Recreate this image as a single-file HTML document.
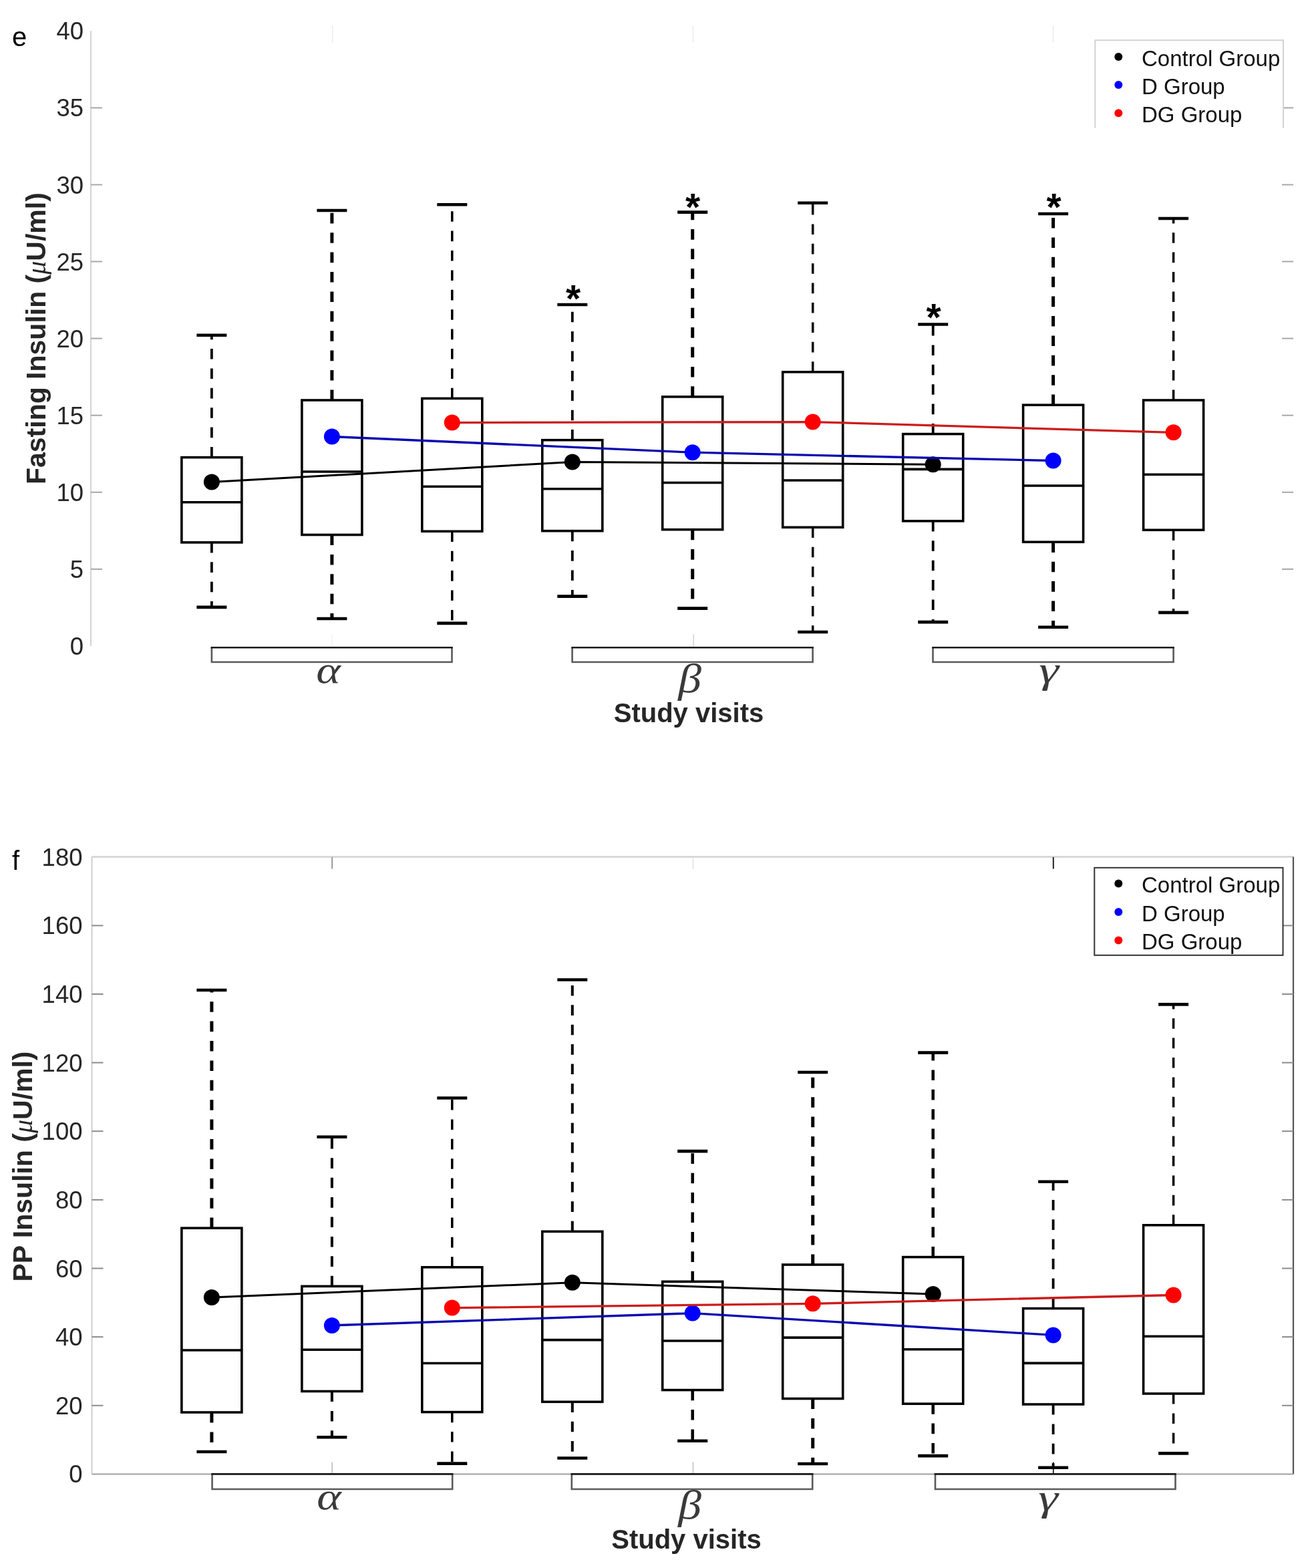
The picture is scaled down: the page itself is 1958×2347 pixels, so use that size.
<!DOCTYPE html>
<html><head><meta charset="utf-8"><title>Insulin boxplots</title>
<style>
html,body{margin:0;padding:0;background:#fff;}
body{width:1958px;height:2347px;overflow:hidden;}
svg{display:block;}
text{font-family:"Liberation Sans",Arial,sans-serif;}
.tl{font-size:36.5px;fill:#262626;text-anchor:end;}
.lg{font-size:33px;fill:#111;}
.xl{font-size:40px;font-weight:bold;fill:#262626;}
.yl{font-size:41px;font-weight:bold;fill:#262626;}
.mu{font-family:"Liberation Serif",serif;font-style:italic;font-weight:normal;font-size:40px;}
.pl{font-size:40px;fill:#000;}
.gk{font-family:"Liberation Serif",serif;font-style:italic;font-size:58px;fill:#3a3a3a;}
.st{font-size:57px;font-weight:bold;fill:#000;}
</style></head>
<body>
<svg width="1958" height="2347" viewBox="0 0 1958 2347">
<rect width="100%" height="100%" fill="#fff"/>
<line x1="136" y1="46.3" x2="136" y2="967" stroke="#d4d4d4" stroke-width="2"/>
<line x1="496.8" y1="949.5" x2="496.8" y2="967" stroke="#f3f3f3" stroke-width="1.6"/>
<line x1="1038.2" y1="949.5" x2="1038.2" y2="969" stroke="#d4d4d4" stroke-width="1.6"/>
<line x1="497.8" y1="38" x2="497.8" y2="64" stroke="#f0f0f0" stroke-width="2"/>
<line x1="1037.5" y1="38" x2="1037.5" y2="64" stroke="#f0f0f0" stroke-width="2"/>
<line x1="1576.6" y1="38" x2="1576.6" y2="64" stroke="#f0f0f0" stroke-width="2"/>
<text x="125" y="980" class="tl">0</text>
<line x1="136" y1="851.9" x2="153" y2="851.9" stroke="#a8a8a8" stroke-width="2"/>
<line x1="1919" y1="851.9" x2="1936" y2="851.9" stroke="#a8a8a8" stroke-width="2"/>
<text x="125" y="864.9" class="tl">5</text>
<line x1="136" y1="736.8" x2="153" y2="736.8" stroke="#a8a8a8" stroke-width="2"/>
<line x1="1919" y1="736.8" x2="1936" y2="736.8" stroke="#a8a8a8" stroke-width="2"/>
<text x="125" y="749.8" class="tl">10</text>
<line x1="136" y1="621.7" x2="153" y2="621.7" stroke="#a8a8a8" stroke-width="2"/>
<line x1="1919" y1="621.7" x2="1936" y2="621.7" stroke="#a8a8a8" stroke-width="2"/>
<text x="125" y="634.7" class="tl">15</text>
<line x1="136" y1="506.6" x2="153" y2="506.6" stroke="#a8a8a8" stroke-width="2"/>
<line x1="1919" y1="506.6" x2="1936" y2="506.6" stroke="#a8a8a8" stroke-width="2"/>
<text x="125" y="519.6" class="tl">20</text>
<line x1="136" y1="391.5" x2="153" y2="391.5" stroke="#a8a8a8" stroke-width="2"/>
<line x1="1919" y1="391.5" x2="1936" y2="391.5" stroke="#a8a8a8" stroke-width="2"/>
<text x="125" y="404.5" class="tl">25</text>
<line x1="136" y1="276.5" x2="153" y2="276.5" stroke="#a8a8a8" stroke-width="2"/>
<line x1="1919" y1="276.5" x2="1936" y2="276.5" stroke="#a8a8a8" stroke-width="2"/>
<text x="125" y="289.5" class="tl">30</text>
<line x1="136" y1="161.4" x2="153" y2="161.4" stroke="#a8a8a8" stroke-width="2"/>
<line x1="1919" y1="161.4" x2="1936" y2="161.4" stroke="#a8a8a8" stroke-width="2"/>
<text x="125" y="174.4" class="tl">35</text>
<text x="125" y="59.3" class="tl">40</text>
<line x1="316.9" y1="684.6" x2="316.9" y2="501.7" stroke="#000" stroke-width="3.8" stroke-dasharray="15.6 13.8"/>
<line x1="316.9" y1="811.9" x2="316.9" y2="908.9" stroke="#000" stroke-width="3.8" stroke-dasharray="15.6 13.8"/>
<line x1="294.4" y1="501.7" x2="339.4" y2="501.7" stroke="#000" stroke-width="4.6"/>
<line x1="294.4" y1="908.9" x2="339.4" y2="908.9" stroke="#000" stroke-width="4.6"/>
<rect x="271.9" y="684.6" width="90" height="127.3" fill="none" stroke="#000" stroke-width="3.6"/>
<line x1="271.9" y1="751.7" x2="361.9" y2="751.7" stroke="#000" stroke-width="3.6"/>
<line x1="496.9" y1="599" x2="496.9" y2="315" stroke="#000" stroke-width="5.0" stroke-dasharray="15.6 13.8"/>
<line x1="496.9" y1="800.5" x2="496.9" y2="926" stroke="#000" stroke-width="5.0" stroke-dasharray="15.6 13.8"/>
<line x1="474.4" y1="315" x2="519.4" y2="315" stroke="#000" stroke-width="4.6"/>
<line x1="474.4" y1="926" x2="519.4" y2="926" stroke="#000" stroke-width="4.6"/>
<rect x="451.9" y="599" width="90" height="201.5" fill="none" stroke="#000" stroke-width="3.6"/>
<line x1="451.9" y1="706" x2="541.9" y2="706" stroke="#000" stroke-width="3.6"/>
<line x1="676.8" y1="596.4" x2="676.8" y2="306.2" stroke="#000" stroke-width="3.5" stroke-dasharray="15.6 13.8"/>
<line x1="676.8" y1="795.3" x2="676.8" y2="932.9" stroke="#000" stroke-width="3.5" stroke-dasharray="15.6 13.8"/>
<line x1="654.3" y1="306.2" x2="699.3" y2="306.2" stroke="#000" stroke-width="4.6"/>
<line x1="654.3" y1="932.9" x2="699.3" y2="932.9" stroke="#000" stroke-width="4.6"/>
<rect x="631.8" y="596.4" width="90" height="198.9" fill="none" stroke="#000" stroke-width="3.6"/>
<line x1="631.8" y1="728.3" x2="721.8" y2="728.3" stroke="#000" stroke-width="3.6"/>
<line x1="856.8" y1="658.7" x2="856.8" y2="456" stroke="#000" stroke-width="3.8" stroke-dasharray="15.6 13.8"/>
<line x1="856.8" y1="794.7" x2="856.8" y2="892.6" stroke="#000" stroke-width="3.8" stroke-dasharray="15.6 13.8"/>
<line x1="834.3" y1="456" x2="879.3" y2="456" stroke="#000" stroke-width="4.6"/>
<line x1="834.3" y1="892.6" x2="879.3" y2="892.6" stroke="#000" stroke-width="4.6"/>
<rect x="811.8" y="658.7" width="90" height="136" fill="none" stroke="#000" stroke-width="3.6"/>
<line x1="811.8" y1="731.8" x2="901.8" y2="731.8" stroke="#000" stroke-width="3.6"/>
<line x1="1036.7" y1="593.9" x2="1036.7" y2="317.6" stroke="#000" stroke-width="5.0" stroke-dasharray="15.6 13.8"/>
<line x1="1036.7" y1="792.7" x2="1036.7" y2="910.6" stroke="#000" stroke-width="5.0" stroke-dasharray="15.6 13.8"/>
<line x1="1014.2" y1="317.6" x2="1059.2" y2="317.6" stroke="#000" stroke-width="4.6"/>
<line x1="1014.2" y1="910.6" x2="1059.2" y2="910.6" stroke="#000" stroke-width="4.6"/>
<rect x="991.7" y="593.9" width="90" height="198.8" fill="none" stroke="#000" stroke-width="3.6"/>
<line x1="991.7" y1="722.5" x2="1081.7" y2="722.5" stroke="#000" stroke-width="3.6"/>
<line x1="1216.7" y1="556.8" x2="1216.7" y2="303.7" stroke="#000" stroke-width="3.5" stroke-dasharray="15.6 13.8"/>
<line x1="1216.7" y1="789.3" x2="1216.7" y2="946" stroke="#000" stroke-width="3.5" stroke-dasharray="15.6 13.8"/>
<line x1="1194.2" y1="303.7" x2="1239.2" y2="303.7" stroke="#000" stroke-width="4.6"/>
<line x1="1194.2" y1="946" x2="1239.2" y2="946" stroke="#000" stroke-width="4.6"/>
<rect x="1171.7" y="556.8" width="90" height="232.5" fill="none" stroke="#000" stroke-width="3.6"/>
<line x1="1171.7" y1="719" x2="1261.7" y2="719" stroke="#000" stroke-width="3.6"/>
<line x1="1396.7" y1="649.6" x2="1396.7" y2="485.5" stroke="#000" stroke-width="3.8" stroke-dasharray="15.6 13.8"/>
<line x1="1396.7" y1="779.9" x2="1396.7" y2="931.1" stroke="#000" stroke-width="3.8" stroke-dasharray="15.6 13.8"/>
<line x1="1374.2" y1="485.5" x2="1419.2" y2="485.5" stroke="#000" stroke-width="4.6"/>
<line x1="1374.2" y1="931.1" x2="1419.2" y2="931.1" stroke="#000" stroke-width="4.6"/>
<rect x="1351.7" y="649.6" width="90" height="130.3" fill="none" stroke="#000" stroke-width="3.6"/>
<line x1="1351.7" y1="702.4" x2="1441.7" y2="702.4" stroke="#000" stroke-width="3.6"/>
<line x1="1576.6" y1="606.2" x2="1576.6" y2="320" stroke="#000" stroke-width="5.0" stroke-dasharray="15.6 13.8"/>
<line x1="1576.6" y1="811.3" x2="1576.6" y2="938.8" stroke="#000" stroke-width="5.0" stroke-dasharray="15.6 13.8"/>
<line x1="1554.1" y1="320" x2="1599.1" y2="320" stroke="#000" stroke-width="4.6"/>
<line x1="1554.1" y1="938.8" x2="1599.1" y2="938.8" stroke="#000" stroke-width="4.6"/>
<rect x="1531.6" y="606.2" width="90" height="205.1" fill="none" stroke="#000" stroke-width="3.6"/>
<line x1="1531.6" y1="727" x2="1621.6" y2="727" stroke="#000" stroke-width="3.6"/>
<line x1="1756.6" y1="599" x2="1756.6" y2="327" stroke="#000" stroke-width="3.5" stroke-dasharray="15.6 13.8"/>
<line x1="1756.6" y1="793.3" x2="1756.6" y2="916.9" stroke="#000" stroke-width="3.5" stroke-dasharray="15.6 13.8"/>
<line x1="1734.1" y1="327" x2="1779.1" y2="327" stroke="#000" stroke-width="4.6"/>
<line x1="1734.1" y1="916.9" x2="1779.1" y2="916.9" stroke="#000" stroke-width="4.6"/>
<rect x="1711.6" y="599" width="90" height="194.3" fill="none" stroke="#000" stroke-width="3.6"/>
<line x1="1711.6" y1="710.2" x2="1801.6" y2="710.2" stroke="#000" stroke-width="3.6"/>
<polyline points="316.9,721.5 856.8,691.5 1396.7,695.2" fill="none" stroke="#000000" stroke-width="3.0"/>
<circle cx="316.9" cy="721.5" r="12" fill="#000000"/>
<circle cx="856.8" cy="691.5" r="12" fill="#000000"/>
<circle cx="1396.7" cy="695.2" r="12" fill="#000000"/>
<polyline points="496.9,653.5 1036.7,677.2 1576.6,689.5" fill="none" stroke="#0808b0" stroke-width="3.3"/>
<circle cx="496.9" cy="653.5" r="12" fill="#0000ff"/>
<circle cx="1036.7" cy="677.2" r="12" fill="#0000ff"/>
<circle cx="1576.6" cy="689.5" r="12" fill="#0000ff"/>
<polyline points="676.8,632.6 1216.7,631.6 1756.6,647.3" fill="none" stroke="#cc1c1c" stroke-width="3.3"/>
<circle cx="676.8" cy="632.6" r="12" fill="#ff0000"/>
<circle cx="1216.7" cy="631.6" r="12" fill="#ff0000"/>
<circle cx="1756.6" cy="647.3" r="12" fill="#ff0000"/>
<text x="858" y="466.5" class="st" text-anchor="middle">*</text>
<text x="1037" y="329.9" class="st" text-anchor="middle">*</text>
<text x="1397.5" y="494.5" class="st" text-anchor="middle">*</text>
<text x="1577.5" y="329.9" class="st" text-anchor="middle">*</text>
<polyline points="316.9,969.2 316.9,991 676.5,991 676.5,969.2" fill="none" stroke="#5a5a5a" stroke-width="2.6"/>
<line x1="315.6" y1="969.2" x2="677.8" y2="969.2" stroke="#1a1a1a" stroke-width="2.6"/>
<polyline points="856.6,969.2 856.6,991 1216.6,991 1216.6,969.2" fill="none" stroke="#5a5a5a" stroke-width="2.6"/>
<line x1="855.3" y1="969.2" x2="1217.9" y2="969.2" stroke="#1a1a1a" stroke-width="2.6"/>
<polyline points="1396.5,969.2 1396.5,991 1756.6,991 1756.6,969.2" fill="none" stroke="#5a5a5a" stroke-width="2.6"/>
<line x1="1395.2" y1="969.2" x2="1757.9" y2="969.2" stroke="#1a1a1a" stroke-width="2.6"/>
<text transform="translate(491.5 1021.5) scale(1.2 1.0)" class="gk" text-anchor="middle">&#945;</text>
<text transform="translate(1032.5 1036) scale(1.2 1.05)" class="gk" text-anchor="middle">&#946;</text>
<text transform="translate(1570 1021.5) scale(1.3 1.0)" class="gk" text-anchor="middle">&#947;</text>
<text x="1031" y="1080.5" class="xl" text-anchor="middle">Study visits</text>
<text x="68" y="506.6" class="yl" text-anchor="middle" transform="rotate(-90 68 506.6)">Fasting Insulin (<tspan class="mu">&#956;</tspan>U/ml)</text>
<text x="18" y="69.2" class="pl">e</text>
<rect x="1639.3" y="60.2" width="281.7" height="131.3" fill="#fff" stroke="none"/>
<polyline points="1639.3,191.5 1639.3,60.2 1921,60.2 1921,191.5" fill="none" stroke="#d2d2d2" stroke-width="2"/>
<circle cx="1674.3" cy="85" r="6" fill="#000000"/>
<text x="1709" y="98.8" class="lg">Control Group</text>
<circle cx="1674.3" cy="127.1" r="6" fill="#0000ff"/>
<text x="1709" y="140.9" class="lg">D Group</text>
<circle cx="1674.3" cy="169.2" r="6" fill="#ff0000"/>
<text x="1709" y="183" class="lg">DG Group</text>
<line x1="137.5" y1="1282.5" x2="1936" y2="1282.5" stroke="#d2d2d2" stroke-width="2.4"/>
<line x1="137.5" y1="1282.5" x2="137.5" y2="2206.4" stroke="#d2d2d2" stroke-width="2.2"/>
<line x1="1936" y1="1282.5" x2="1936" y2="2206.4" stroke="#555" stroke-width="2.2"/>
<line x1="137.5" y1="2206.4" x2="1936" y2="2206.4" stroke="#a0a0a0" stroke-width="2"/>
<line x1="497.2" y1="2188.5" x2="497.2" y2="2206" stroke="#c4c4c4" stroke-width="1.8"/>
<line x1="497.2" y1="1283" x2="497.2" y2="1300.5" stroke="#999" stroke-width="2"/>
<line x1="1037.5" y1="2188.5" x2="1037.5" y2="2206" stroke="#c8c8c8" stroke-width="1.8"/>
<line x1="1037.5" y1="1283" x2="1037.5" y2="1300.5" stroke="#e6e6e6" stroke-width="2"/>
<line x1="1576.8" y1="2188.5" x2="1576.8" y2="2206" stroke="#222" stroke-width="1.8"/>
<line x1="1576.8" y1="1283" x2="1576.8" y2="1300.5" stroke="#222" stroke-width="2"/>
<text x="123.5" y="2219.4" class="tl">0</text>
<line x1="137.5" y1="2103.8" x2="154.5" y2="2103.8" stroke="#8c8c8c" stroke-width="2"/>
<line x1="1919" y1="2103.8" x2="1936" y2="2103.8" stroke="#8c8c8c" stroke-width="2"/>
<text x="123.5" y="2116.8" class="tl">20</text>
<line x1="137.5" y1="2001.1" x2="154.5" y2="2001.1" stroke="#8c8c8c" stroke-width="2"/>
<line x1="1919" y1="2001.1" x2="1936" y2="2001.1" stroke="#8c8c8c" stroke-width="2"/>
<text x="123.5" y="2014.1" class="tl">40</text>
<line x1="137.5" y1="1898.5" x2="154.5" y2="1898.5" stroke="#8c8c8c" stroke-width="2"/>
<line x1="1919" y1="1898.5" x2="1936" y2="1898.5" stroke="#8c8c8c" stroke-width="2"/>
<text x="123.5" y="1911.5" class="tl">60</text>
<line x1="137.5" y1="1795.9" x2="154.5" y2="1795.9" stroke="#8c8c8c" stroke-width="2"/>
<line x1="1919" y1="1795.9" x2="1936" y2="1795.9" stroke="#8c8c8c" stroke-width="2"/>
<text x="123.5" y="1808.9" class="tl">80</text>
<line x1="137.5" y1="1693.2" x2="154.5" y2="1693.2" stroke="#8c8c8c" stroke-width="2"/>
<line x1="1919" y1="1693.2" x2="1936" y2="1693.2" stroke="#8c8c8c" stroke-width="2"/>
<text x="123.5" y="1706.2" class="tl">100</text>
<line x1="137.5" y1="1590.6" x2="154.5" y2="1590.6" stroke="#8c8c8c" stroke-width="2"/>
<line x1="1919" y1="1590.6" x2="1936" y2="1590.6" stroke="#8c8c8c" stroke-width="2"/>
<text x="123.5" y="1603.6" class="tl">120</text>
<line x1="137.5" y1="1488" x2="154.5" y2="1488" stroke="#8c8c8c" stroke-width="2"/>
<line x1="1919" y1="1488" x2="1936" y2="1488" stroke="#8c8c8c" stroke-width="2"/>
<text x="123.5" y="1501" class="tl">140</text>
<line x1="137.5" y1="1385.4" x2="154.5" y2="1385.4" stroke="#8c8c8c" stroke-width="2"/>
<line x1="1919" y1="1385.4" x2="1936" y2="1385.4" stroke="#8c8c8c" stroke-width="2"/>
<text x="123.5" y="1398.4" class="tl">160</text>
<text x="123.5" y="1295.7" class="tl">180</text>
<line x1="316.9" y1="1838.2" x2="316.9" y2="1482" stroke="#000" stroke-width="5.0" stroke-dasharray="15.6 13.8"/>
<line x1="316.9" y1="2114" x2="316.9" y2="2173" stroke="#000" stroke-width="5.0" stroke-dasharray="15.6 13.8"/>
<line x1="294.4" y1="1482" x2="339.4" y2="1482" stroke="#000" stroke-width="4.6"/>
<line x1="294.4" y1="2173" x2="339.4" y2="2173" stroke="#000" stroke-width="4.6"/>
<rect x="271.9" y="1838.2" width="90" height="275.8" fill="none" stroke="#000" stroke-width="3.6"/>
<line x1="271.9" y1="2021" x2="361.9" y2="2021" stroke="#000" stroke-width="3.6"/>
<line x1="496.9" y1="1925.3" x2="496.9" y2="1701.8" stroke="#000" stroke-width="4.0" stroke-dasharray="15.6 13.8"/>
<line x1="496.9" y1="2082.5" x2="496.9" y2="2151.3" stroke="#000" stroke-width="4.0" stroke-dasharray="15.6 13.8"/>
<line x1="474.4" y1="1701.8" x2="519.4" y2="1701.8" stroke="#000" stroke-width="4.6"/>
<line x1="474.4" y1="2151.3" x2="519.4" y2="2151.3" stroke="#000" stroke-width="4.6"/>
<rect x="451.9" y="1925.3" width="90" height="157.2" fill="none" stroke="#000" stroke-width="3.6"/>
<line x1="451.9" y1="2020.3" x2="541.9" y2="2020.3" stroke="#000" stroke-width="3.6"/>
<line x1="676.8" y1="1896.8" x2="676.8" y2="1643.5" stroke="#000" stroke-width="3.5" stroke-dasharray="15.6 13.8"/>
<line x1="676.8" y1="2113.6" x2="676.8" y2="2190.6" stroke="#000" stroke-width="3.5" stroke-dasharray="15.6 13.8"/>
<line x1="654.3" y1="1643.5" x2="699.3" y2="1643.5" stroke="#000" stroke-width="4.6"/>
<line x1="654.3" y1="2190.6" x2="699.3" y2="2190.6" stroke="#000" stroke-width="4.6"/>
<rect x="631.8" y="1896.8" width="90" height="216.8" fill="none" stroke="#000" stroke-width="3.6"/>
<line x1="631.8" y1="2040.5" x2="721.8" y2="2040.5" stroke="#000" stroke-width="3.6"/>
<line x1="856.8" y1="1843.3" x2="856.8" y2="1466.5" stroke="#000" stroke-width="4.0" stroke-dasharray="15.6 13.8"/>
<line x1="856.8" y1="2098.3" x2="856.8" y2="2182.5" stroke="#000" stroke-width="4.0" stroke-dasharray="15.6 13.8"/>
<line x1="834.3" y1="1466.5" x2="879.3" y2="1466.5" stroke="#000" stroke-width="4.6"/>
<line x1="834.3" y1="2182.5" x2="879.3" y2="2182.5" stroke="#000" stroke-width="4.6"/>
<rect x="811.8" y="1843.3" width="90" height="255" fill="none" stroke="#000" stroke-width="3.6"/>
<line x1="811.8" y1="2005.6" x2="901.8" y2="2005.6" stroke="#000" stroke-width="3.6"/>
<line x1="1036.7" y1="1918.3" x2="1036.7" y2="1723.1" stroke="#000" stroke-width="4.5" stroke-dasharray="15.6 13.8"/>
<line x1="1036.7" y1="2080.6" x2="1036.7" y2="2156.8" stroke="#000" stroke-width="4.5" stroke-dasharray="15.6 13.8"/>
<line x1="1014.2" y1="1723.1" x2="1059.2" y2="1723.1" stroke="#000" stroke-width="4.6"/>
<line x1="1014.2" y1="2156.8" x2="1059.2" y2="2156.8" stroke="#000" stroke-width="4.6"/>
<rect x="991.7" y="1918.3" width="90" height="162.3" fill="none" stroke="#000" stroke-width="3.6"/>
<line x1="991.7" y1="2007" x2="1081.7" y2="2007" stroke="#000" stroke-width="3.6"/>
<line x1="1216.7" y1="1893" x2="1216.7" y2="1605" stroke="#000" stroke-width="5.0" stroke-dasharray="15.6 13.8"/>
<line x1="1216.7" y1="2093.5" x2="1216.7" y2="2191" stroke="#000" stroke-width="5.0" stroke-dasharray="15.6 13.8"/>
<line x1="1194.2" y1="1605" x2="1239.2" y2="1605" stroke="#000" stroke-width="4.6"/>
<line x1="1194.2" y1="2191" x2="1239.2" y2="2191" stroke="#000" stroke-width="4.6"/>
<rect x="1171.7" y="1893" width="90" height="200.5" fill="none" stroke="#000" stroke-width="3.6"/>
<line x1="1171.7" y1="2002.1" x2="1261.7" y2="2002.1" stroke="#000" stroke-width="3.6"/>
<line x1="1396.7" y1="1881.6" x2="1396.7" y2="1575.6" stroke="#000" stroke-width="4.5" stroke-dasharray="15.6 13.8"/>
<line x1="1396.7" y1="2101.2" x2="1396.7" y2="2179.1" stroke="#000" stroke-width="4.5" stroke-dasharray="15.6 13.8"/>
<line x1="1374.2" y1="1575.6" x2="1419.2" y2="1575.6" stroke="#000" stroke-width="4.6"/>
<line x1="1374.2" y1="2179.1" x2="1419.2" y2="2179.1" stroke="#000" stroke-width="4.6"/>
<rect x="1351.7" y="1881.6" width="90" height="219.6" fill="none" stroke="#000" stroke-width="3.6"/>
<line x1="1351.7" y1="2019.8" x2="1441.7" y2="2019.8" stroke="#000" stroke-width="3.6"/>
<line x1="1576.6" y1="1958.5" x2="1576.6" y2="1768.8" stroke="#000" stroke-width="3.8" stroke-dasharray="15.6 13.8"/>
<line x1="1576.6" y1="2102" x2="1576.6" y2="2196.8" stroke="#000" stroke-width="3.8" stroke-dasharray="15.6 13.8"/>
<line x1="1554.1" y1="1768.8" x2="1599.1" y2="1768.8" stroke="#000" stroke-width="4.6"/>
<line x1="1554.1" y1="2196.8" x2="1599.1" y2="2196.8" stroke="#000" stroke-width="4.6"/>
<rect x="1531.6" y="1958.5" width="90" height="143.5" fill="none" stroke="#000" stroke-width="3.6"/>
<line x1="1531.6" y1="2040.4" x2="1621.6" y2="2040.4" stroke="#000" stroke-width="3.6"/>
<line x1="1756.6" y1="1833.8" x2="1756.6" y2="1503.4" stroke="#000" stroke-width="3.5" stroke-dasharray="15.6 13.8"/>
<line x1="1756.6" y1="2086" x2="1756.6" y2="2175.4" stroke="#000" stroke-width="3.5" stroke-dasharray="15.6 13.8"/>
<line x1="1734.1" y1="1503.4" x2="1779.1" y2="1503.4" stroke="#000" stroke-width="4.6"/>
<line x1="1734.1" y1="2175.4" x2="1779.1" y2="2175.4" stroke="#000" stroke-width="4.6"/>
<rect x="1711.6" y="1833.8" width="90" height="252.2" fill="none" stroke="#000" stroke-width="3.6"/>
<line x1="1711.6" y1="2000.3" x2="1801.6" y2="2000.3" stroke="#000" stroke-width="3.6"/>
<polyline points="316.9,1941.9 856.8,1919.8 1396.7,1937.1" fill="none" stroke="#000000" stroke-width="3.0"/>
<circle cx="316.9" cy="1941.9" r="12" fill="#000000"/>
<circle cx="856.8" cy="1919.8" r="12" fill="#000000"/>
<circle cx="1396.7" cy="1937.1" r="12" fill="#000000"/>
<polyline points="496.9,1983.9 1036.7,1965.6 1576.6,1998.4" fill="none" stroke="#0808b0" stroke-width="3.3"/>
<circle cx="496.9" cy="1983.9" r="12" fill="#0000ff"/>
<circle cx="1036.7" cy="1965.6" r="12" fill="#0000ff"/>
<circle cx="1576.6" cy="1998.4" r="12" fill="#0000ff"/>
<polyline points="676.8,1957.6 1216.7,1951.3 1756.6,1938.5" fill="none" stroke="#cc1c1c" stroke-width="3.3"/>
<circle cx="676.8" cy="1957.6" r="12" fill="#ff0000"/>
<circle cx="1216.7" cy="1951.3" r="12" fill="#ff0000"/>
<circle cx="1756.6" cy="1938.5" r="12" fill="#ff0000"/>
<polyline points="317.6,2206.4 317.6,2229 677.2,2229 677.2,2206.4" fill="none" stroke="#5a5a5a" stroke-width="2.6"/>
<line x1="316.3" y1="2206.4" x2="678.5" y2="2206.4" stroke="#1a1a1a" stroke-width="2.6"/>
<polyline points="855.8,2206.4 855.8,2229 1216.2,2229 1216.2,2206.4" fill="none" stroke="#5a5a5a" stroke-width="2.6"/>
<line x1="854.5" y1="2206.4" x2="1217.5" y2="2206.4" stroke="#1a1a1a" stroke-width="2.6"/>
<polyline points="1400,2206.4 1400,2229 1759.5,2229 1759.5,2206.4" fill="none" stroke="#5a5a5a" stroke-width="2.6"/>
<line x1="1398.7" y1="2206.4" x2="1760.8" y2="2206.4" stroke="#1a1a1a" stroke-width="2.6"/>
<text transform="translate(492.5 2259) scale(1.2 1.0)" class="gk" text-anchor="middle">&#945;</text>
<text transform="translate(1032.5 2272.5) scale(1.2 1.05)" class="gk" text-anchor="middle">&#946;</text>
<text transform="translate(1569 2260.5) scale(1.3 1.0)" class="gk" text-anchor="middle">&#947;</text>
<text x="1027.5" y="2318" class="xl" text-anchor="middle">Study visits</text>
<text x="48.3" y="1746" class="yl" text-anchor="middle" transform="rotate(-90 48.3 1746)">PP Insulin (<tspan class="mu">&#956;</tspan>U/ml)</text>
<text x="18" y="1302" class="pl">f</text>
<rect x="1638.3" y="1298.8" width="282.2" height="131" fill="#fff" stroke="#333" stroke-width="2"/>
<circle cx="1674.3" cy="1322.6" r="6" fill="#000000"/>
<text x="1709" y="1336.4" class="lg">Control Group</text>
<circle cx="1674.3" cy="1365.1" r="6" fill="#0000ff"/>
<text x="1709" y="1378.9" class="lg">D Group</text>
<circle cx="1674.3" cy="1407.4" r="6" fill="#ff0000"/>
<text x="1709" y="1421.2" class="lg">DG Group</text>
</svg>
</body></html>
